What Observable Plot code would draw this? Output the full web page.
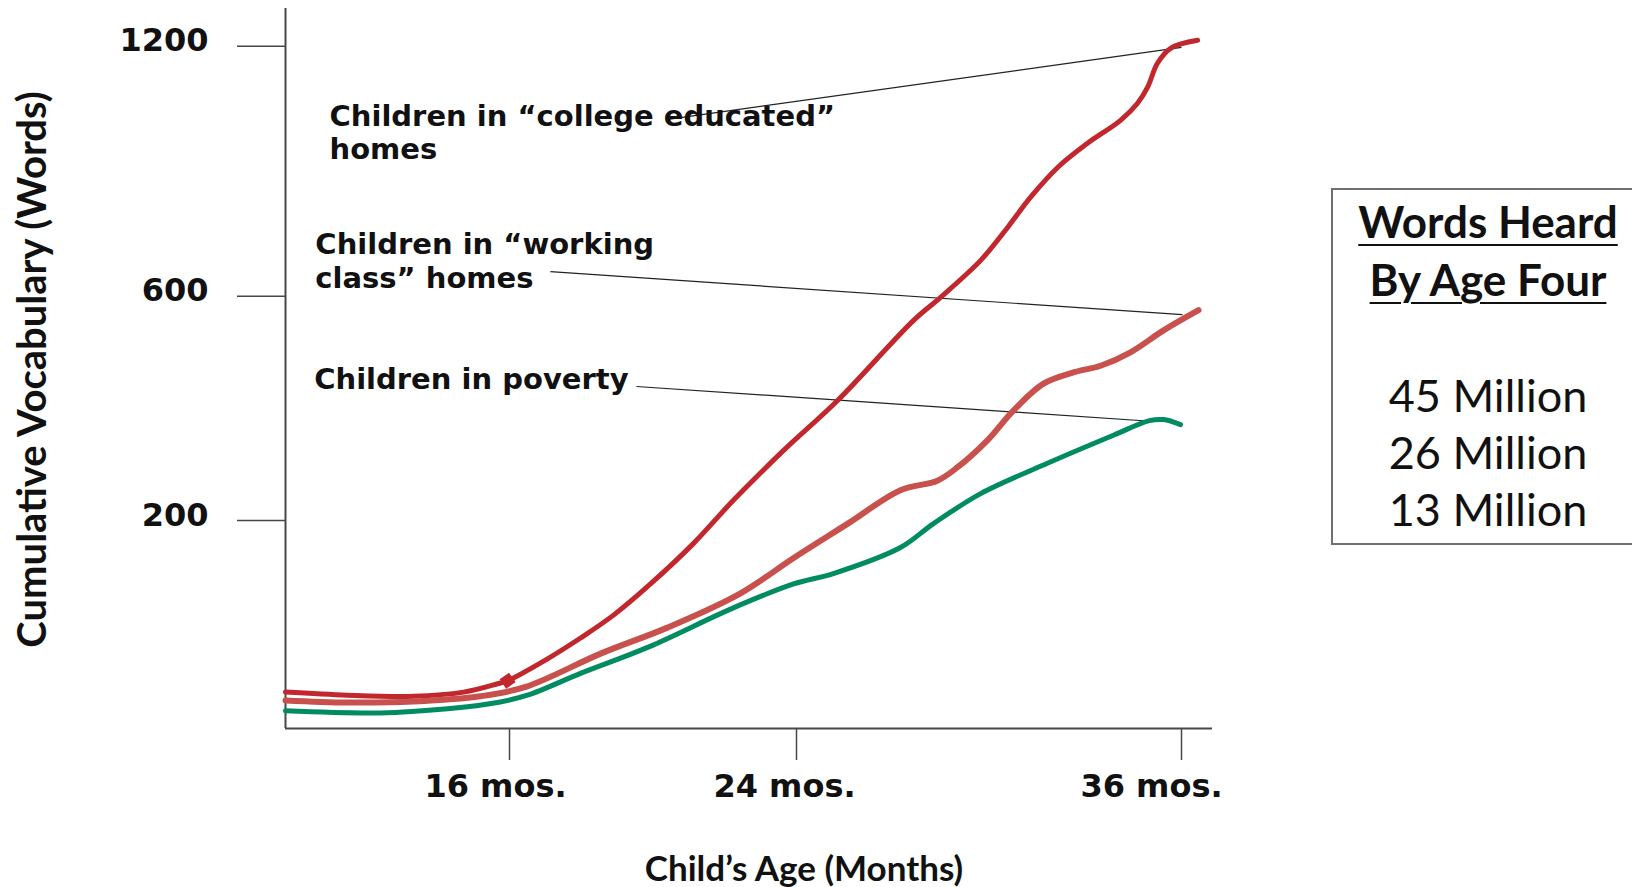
<!DOCTYPE html>
<html><head><meta charset="utf-8">
<script src="https://cdn.jsdelivr.net/npm/d3@7"></script>
<script src="https://cdn.jsdelivr.net/npm/@observablehq/plot@0.6"></script>
<style>
html,body{margin:0;padding:0;background:#fff;overflow:hidden;}
#wrap{position:relative;width:1632px;height:887px;}
#box{position:absolute;left:1331px;top:188px;width:330px;height:357px;border:2px solid #707070;box-sizing:border-box;font-family:Lato,sans-serif;color:#111;}
.bl{position:absolute;left:0;width:310px;text-align:center;transform:translateY(-50%);white-space:nowrap;line-height:1;}
.ttl{font-weight:700;font-size:44px;text-decoration:underline;text-decoration-thickness:2px;text-underline-offset:6px;}
.num{font-weight:400;font-size:45px;}
</style></head><body><div id="wrap"><div id="chart"></div><div id="box"></div></div>
<script>
// ---- data ----
const collegeMonths = [10, 11.66, 13.43, 14.77, 15.68, 15.95, 17.06, 17.98, 18.9, 19.93, 21.13, 22.24, 23.64, 25.28, 27.65, 28.49, 29.74, 30.58, 31.29, 32.14, 33.07, 34.1, 34.63, 34.94, 35.25, 35.66, 36.52];
const collegeWords  = [35, 32, 31, 35, 43, 46, 67, 87, 109, 139, 178, 236, 325, 414, 557, 598, 686, 765, 837, 909, 967, 1022, 1063, 1101, 1159, 1195, 1214];
const workingMonths = [10, 11.66, 13.43, 15.22, 16.45, 18.54, 20.4, 22.44, 23.92, 25.6, 27.24, 28.39, 29.02, 29.95, 30.76, 31.7, 32.63, 33.48, 34.41, 35.44, 36.55];
const workingWords  = [27, 25, 26, 31, 40, 72, 97, 130, 164, 197, 254, 271, 295, 343, 396, 444, 464, 476, 500, 539, 575];
const povertyMonths = [10, 12.54, 14.34, 15.68, 16.5, 17.98, 19.85, 22.24, 23.92, 25.15, 27.24, 28.27, 29.74, 31.82, 33.88, 35.0, 35.44, 35.97];
const povertyWords  = [17, 15, 19, 25, 32, 53, 78, 116, 139, 149, 174, 197, 248, 302, 352, 378, 380, 371];

const seriesNames  = ["college", "working", "poverty"];
const seriesColors = ["#C1272D", "#C9514D", "#008C60"];

const markerMonths = [15.95];
const markerWords  = [46];

const labelTexts  = ["Children in \u201ccollege educated\u201d\nhomes", "Children in \u201cworking\nclass\u201d homes", "Children in poverty"];
const labelMonths = [11.18, 10.8, 10.77];
const labelWords  = [1066, 757, 476];
const leaderFromMonths = [20.37, 17.14, 19.54];
const leaderFromWords  = [1024, 659, 439];
const leaderToMonths   = [36.0, 36.03, 35.03];
const leaderToWords    = [1197, 567, 377];

const xTicks = [16, 24, 36];
const xTickLabels = ["16 mos.", "24 mos.", "36 mos."];
const yTicks = [200, 600, 1200];
const xTitle = "Child\u2019s Age (Months)";
const yTitle = "Cumulative Vocabulary (Words)";

const boxTitle  = ["Words Heard", "By Age Four"];
const boxValues = ["45 Million", "26 Million", "13 Million"];

// piecewise scales (the original axis is not uniformly spaced)
const xDomain = [10, 16, 24, 36, 37];
const xRange  = [285, 509, 796, 1181, 1212];
const yDomain = [0, 200, 600, 1200, 1290];
const yRange  = [728, 520, 295.7, 45.7, 8];

// label nudges (styling): the original x tick labels sit left of their ticks
const xLabelNudge = [-14, -12, -30];

// ---- build ----
const build = (ms, ws) => ms.map((m, i) => ({m, w: ws[i]}));
const seriesData = [build(collegeMonths, collegeWords), build(workingMonths, workingWords), build(povertyMonths, povertyWords)];
const widths = [5, 6, 5];
const labels = labelTexts.map((t, i) => ({t, m: labelMonths[i], w: labelWords[i]}));
const leaders = leaderFromMonths.map((m, i) => ({m1: m, w1: leaderFromWords[i], m2: leaderToMonths[i], w2: leaderToWords[i]}));

const axisColor = "#474747";
const tickFont = {fontSize: 32, fontWeight: "bold", fontFamily: "DejaVu Sans", fill: "#111"};
const chart = Plot.plot({
  width: 1632, height: 887,
  marginLeft: 285, marginRight: 420, marginTop: 8, marginBottom: 159,
  x: {type: "linear", domain: xDomain, range: xRange},
  y: {type: "linear", domain: yDomain, range: yRange},
  style: {background: "white", fontFamily: "DejaVu Sans", color: "#111"},
  marks: [
    // tick lines
    Plot.axisY(yTicks, {tickSize: 48, stroke: axisColor, strokeWidth: 1.5, tickFormat: () => "", label: null}),
    Plot.axisX(xTicks, {tickSize: 32, stroke: axisColor, strokeWidth: 1.5, tickFormat: () => "", label: null}),
    // tick labels
    Plot.axisY(yTicks, {tickSize: 0, tickPadding: 77, ...tickFont, dy: -5, label: null, tickFormat: d => String(d)}),
    ...xTicks.map((t, i) => Plot.axisX([t], {tickSize: 0, tickPadding: 46, ...tickFont, dx: xLabelNudge[i], label: null,
      tickFormat: () => xTickLabels[i]})),
    Plot.ruleX([xDomain[0]], {stroke: axisColor, strokeWidth: 2}),
    Plot.ruleY([yDomain[0]], {stroke: axisColor, strokeWidth: 2}),
    Plot.link(leaders, {x1: "m1", y1: "w1", x2: "m2", y2: "w2", stroke: "#222", strokeWidth: 1.2}),
    ...seriesData.map((d, i) => Plot.line(d, {x: "m", y: "w", stroke: seriesColors[i], strokeWidth: widths[i], curve: "catmull-rom"})),
    Plot.dot(markerMonths.map((m, i) => ({m, w: markerWords[i]})), {x: "m", y: "w", symbol: "square", r: 6.5, fill: seriesColors[0], rotate: -35}),
    Plot.text(labels, {x: "m", y: "w", text: "t", textAnchor: "start", lineAnchor: "top", lineHeight: 1.15,
      fontSize: 29, fontWeight: "bold", fontFamily: "DejaVu Sans", fill: "#111"}),
    Plot.text([yTitle], {frameAnchor: "left", textAnchor: "middle", rotate: -90, dx: -252, dy: 1, fontSize: 40, fontWeight: "bold", fontFamily: "Lato", fill: "#111"}),
    Plot.text([xTitle], {frameAnchor: "bottom", textAnchor: "middle", lineAnchor: "middle", dx: 55, dy: 141, fontSize: 35, fontWeight: "bold", fontFamily: "Lato", fill: "#111"})
  ]
});
document.getElementById("chart").append(chart);

const box = document.getElementById("box");
boxTitle.forEach((t, i) => {
  const el = document.createElement("div");
  el.className = "bl ttl"; el.style.top = (31 + i * 58) + "px"; el.textContent = t; box.append(el);
});
boxValues.forEach((t, i) => {
  const el = document.createElement("div");
  el.className = "bl num"; el.style.top = (204.5 + i * 57.3) + "px"; el.textContent = t; box.append(el);
});
</script></body></html>
